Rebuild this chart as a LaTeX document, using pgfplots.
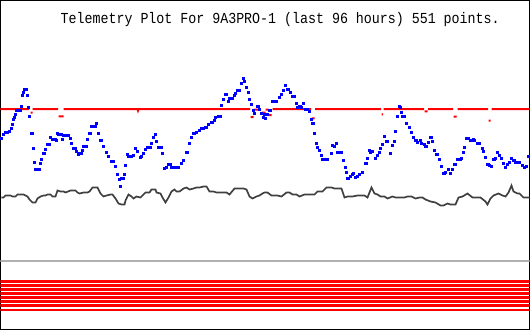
\documentclass[border=0pt]{standalone}
\usepackage{fontspec}
\usepackage{graphicx}
\usepackage{pgfplots}
\pgfplotsset{compat=1.18}
\newfontfamily\titlefont{Liberation Mono}
\definecolor{dgray}{RGB}{64,64,64}
\definecolor{lgray}{RGB}{176,176,176}
\definecolor{pblue}{RGB}{0,0,255}
\begin{document}
\begin{tikzpicture}
\begin{axis}[scale only axis, width=529pt, height=329pt,
  xmin=0, xmax=529, ymin=0, ymax=329, y dir=reverse,
  axis line style={black, line width=1pt}, ticks=none, clip=true,
  unbounded coords=jump]
% stripes
\addplot[red, line width=2.5pt] coordinates {
(0,281.2)(529,281.2)(264,nan)
(0,285.2)(529,285.2)(264,nan)
(0,289.2)(529,289.2)(264,nan)
(0,293.2)(529,293.2)(264,nan)
(0,297.2)(529,297.2)(264,nan)
(0,301.2)(529,301.2)(264,nan)
(0,305.2)(529,305.2)(264,nan)
(0,309.3)(529,309.3)};
% gray line
\addplot[lgray, line width=1.8pt] coordinates {(0,260.7)(529,260.7)};
% black series
\addplot[dgray, line width=1.7pt] coordinates {
(1,197)(3,197)(5,195)(10,195)(12,196)(15,196)(17,194)(23,194)(27,196)(29,199)
(32,202)(35,202)(37,198)(40,196)(43,195)(45,195)(47,194)(50,194)(52,196)(55,196)
(57,190)(60,191)(63,191)(65,192)(70,190)(75,190)(77,192)(79,193)(83,192)(87,192)
(89,191)(92,187)(95,187)(97,187)(100,193)(103,196)(106,195)(110,194)(112,194)(115,198)
(118,203)(121,204)(124,204)(125,200)(128,194)(131,196)(133,198)(136,196)(140,197)(143,194)
(145,192)(149,192)(151,189)(155,189)(156,192)(160,193)(162,197)(165,202)(168,197)(171,191)
(174,189)(176,191)(179,191)(183,188)(186,187)(189,189)(193,188)(196,187)(199,187)(203,186)
(206,186)(209,191)(213,191)(216,192)(226,192)(229,194)(234,188)(243,188)(246,189)(249,196)
(252,198)(256,196)(259,195)(262,193)(264,192)(267,192)(271,195)(277,195)(281,196)(286,192)
(289,192)(292,194)(296,194)(299,196)(304,194)(314,194)(317,191)(322,191)(326,187)(331,187)
(334,188)(341,188)(344,197)(347,196)(352,196)(357,195)(360,195)(364,195)(367,197)(369,192)
(371,187)(374,193)(377,194)(380,196)(384,196)(387,198)(392,196)(395,197)(399,197)(404,197)
(407,196)(411,196)(415,198)(419,197)(422,197)(425,199)(430,201)(435,202)(440,205)(443,205)
(447,203)(450,204)(455,204)(458,197)(462,196)(467,193)(472,197)(477,197)(480,197)(485,201)
(487,204)(490,198)(493,195)(498,193)(502,195)(505,196)(508,192)(511,185)(513,191)(517,193)
(519,193)(523,197)(527,197)(529,197)};
% red series
\addplot[red, line width=2pt] coordinates {
(0,108.5)(28.5,108.5)(29,nan)
(30,112)(32,112)(32,nan)
(32,108.5)(57.5,108.5)(58,nan)
(58,115.8)(63,115.8)(63,nan)
(63,108.5)(137,108.5)(137.5,110)(138,108.5)(249.5,108.5)(250,nan)
(250,116.7)(253,116.7)(253,nan)
(253,109)(260,109)(260,nan)
(261,112)(265,112)(265,nan)
(265,109)(268,109)(268,nan)
(268,114.5)(271,114.5)(271,nan)
(272,108.5)(310.5,108.5)(311,nan)
(311,117.8)(314,117.8)(314,nan)
(314.5,108.5)(380.5,108.5)(381,nan)
(381,113.8)(382.5,113.8)(382.5,nan)
(383,108.5)(423.5,108.5)(424,nan)
(424,110.8)(427,110.8)(427,nan)
(427.5,108.5)(452.5,108.5)(453,nan)
(453,116)(456,116)(456,nan)
(457,108.5)(487.5,108.5)(488,nan)
(488,120)(490,120)(490,nan)
(491,108.5)(529,108.5)};
% blue series
\addplot[pblue, only marks, mark=square*, mark size=1pt, mark options={pblue, solid, line width=0pt}] coordinates {
(1,138)(3,134)(5,132)(7,132)(9,131)(11,128)(12,124)(13,119)(14,117)(15,114)
(16,110)(17,110)(18,110)(19,110)(20,110)(21,106)(22,95)(23,92)(24,89)(25,89)
(26,89)(27,95)(28,107)(29,116)(31,133)(32,133)(33,148)(34,162)(35,169)(36,169)
(37,169)(38,169)(39,169)(40,163)(41,159)(43,153)(44,153)(45,149)(47,144)(48,144)
(49,144)(50,137)(52,139)(53,139)(54,139)(55,139)(56,140)(57,133)(58,134)(59,134)
(60,134)(61,134)(62,139)(63,135)(66,135)(67,135)(68,135)(70,138)(71,143)(73,148)
(74,148)(75,148)(76,151)(78,154)(79,153)(80,153)(81,153)(82,150)(83,146)(84,146)
(85,146)(86,146)(87,139)(89,133)(90,133)(91,126)(92,126)(93,126)(94,126)(95,126)
(96,123)(98,133)(100,140)(101,140)(103,146)(106,152)(108,156)(111,161)(112,161)(113,161)
(115,166)(117,174)(119,179)(120,186)(121,178)(122,178)(123,178)(124,174)(125,165)(127,154)
(128,156)(129,156)(130,156)(131,156)(133,155)(135,148)(137,151)(140,157)(141,156)(143,153)
(145,149)(147,147)(148,147)(149,147)(150,147)(151,143)(153,137)(155,134)(156,141)(158,147)
(159,147)(160,147)(161,147)(162,153)(164,168)(166,167)(168,164)(169,164)(170,164)(171,167)
(174,167)(175,167)(176,167)(178,167)(181,163)(183,160)(186,152)(187,152)(189,143)(191,137)
(193,133)(194,133)(196,132)(199,130)(201,128)(203,128)(205,127)(206,127)(208,124)(211,122)
(212,122)(214,120)(215,117)(218,116)(219,116)(220,116)(221,105)(223,99)(225,94)(226,94)
(228,101)(229,98)(231,98)(232,98)(234,95)(235,93)(237,90)(238,90)(239,90)(241,83)
(243,78)(244,81)(246,87)(248,92)(249,99)(251,104)(253,110)(254,113)(257,106)(258,106)
(259,109)(261,113)(263,117)(264,114)(265,118)(267,114)(269,110)(270,110)(272,101)(273,101)
(274,101)(276,101)(279,97)(281,94)(283,90)(285,85)(287,89)(288,89)(290,92)(292,96)
(293,96)(294,96)(296,103)(297,107)(299,106)(300,106)(301,107)(303,103)(305,109)(306,109)
(307,109)(309,111)(311,119)(312,123)(313,123)(314,133)(316,143)(317,147)(319,150)(321,155)
(322,159)(323,159)(324,159)(325,159)(326,159)(327,159)(331,153)(332,145)(334,146)(336,143)
(337,152)(338,152)(339,152)(340,152)(341,152)(343,160)(345,167)(346,172)(347,178)(348,178)
(350,176)(352,174)(353,173)(355,177)(357,176)(359,174)(362,172)(365,163)(366,163)(367,158)
(369,150)(370,152)(372,151)(375,158)(377,155)(379,152)(380,148)(382,144)(384,136)(386,141)
(387,141)(390,153)(392,145)(394,141)(395,131)(397,116)(399,106)(400,107)(401,112)(402,116)
(403,116)(404,116)(406,123)(409,127)(411,132)(413,137)(415,140)(416,140)(417,142)(420,140)
(421,143)(424,144)(425,146)(426,146)(428,142)(430,137)(431,137)(432,141)(434,150)(436,154)
(437,154)(439,159)(441,166)(443,173)(444,173)(445,172)(448,169)(450,173)(452,169)(454,164)
(455,164)(457,159)(458,159)(459,159)(460,159)(461,158)(463,152)(464,147)(466,138)(467,138)
(468,138)(470,140)(471,140)(473,139)(474,140)(477,143)(478,143)(479,143)(482,148)(483,151)
(485,157)(487,164)(488,164)(489,165)(491,166)(493,159)(494,159)(495,158)(497,152)(499,155)
(501,158)(503,163)(505,167)(507,164)(509,162)(511,158)(513,160)(514,160)(515,162)(518,162)
(519,162)(522,165)(524,167)(526,166)(528,156)};
\node[anchor=base west, inner sep=0pt, font=\titlefont\fontsize{13.3}{15}\selectfont] at (axis cs:60,22.7) {\scalebox{1}[1.15]{Telemetry Plot For 9A3PRO-1 (last 96 hours) 551 points.}};
\end{axis}
\end{tikzpicture}
\end{document}
